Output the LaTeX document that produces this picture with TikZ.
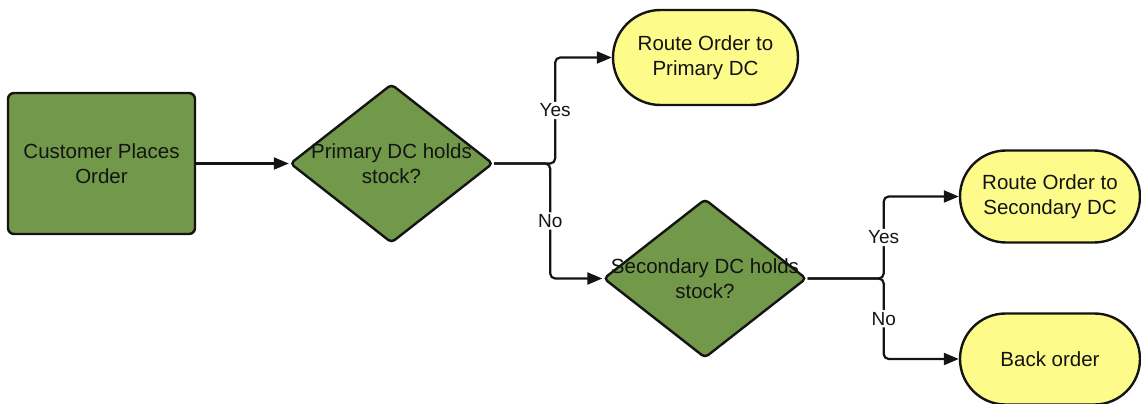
\documentclass[tikz,border=0pt]{standalone}
\usepackage{fontspec}
\setmainfont{Liberation Sans}
\usetikzlibrary{shapes.geometric,shapes.misc,arrows.meta}
\definecolor{leaf}{RGB}{114,152,74}
\definecolor{lemon}{RGB}{253,251,137}
\definecolor{ink}{RGB}{20,20,20}
\tikzset{
  every node/.style={font=\fontsize{20.5}{25}\selectfont, align=center, text=ink},
  startbox/.style={draw=ink, line width=2.4pt, fill=leaf, rounded corners=6pt,
    minimum width=187pt, minimum height=141pt, inner sep=0pt},
  decision/.style={draw=ink, line width=2.4pt, fill=leaf, diamond, rounded corners=4pt,
    minimum width=203pt, minimum height=159pt, inner sep=0pt},
  outcome/.style={draw=ink, line width=2.4pt, fill=lemon, rounded rectangle,
    minimum width=180pt, minimum height=93pt, inner sep=0pt},
  conn/.style={draw=ink, line width=2.2pt, rounded corners=5pt,
    -{Triangle[length=15pt,width=12pt]}},
  lbl/.style={fill=white, inner sep=2pt, font=\fontsize{19}{22}\selectfont},
}
\begin{document}
\begin{tikzpicture}[x=1pt,y=-1pt]
  \useasboundingbox (0,0) rectangle (1141,404);

  % shapes
  \node[startbox] (cust) at (101.5,163.5) {Customer Places\\Order};
  \node[decision] (d1) at (391.5,163.5) {};
  \node (d1t) at (d1) {Primary DC holds\\stock?};
  \node[decision] (d2) at (705,278.5) {};
  \node (d2t) at (d2) {Secondary DC holds\\stock?};
  \node[outcome, minimum width=185pt, minimum height=95pt] (r1) at (705.5,57.5) {Route Order to\\Primary DC};
  \node[outcome, minimum height=92pt] (r2) at (1050,196.5) {Route Order to\\Secondary DC};
  \node[outcome, minimum height=91pt] (bo) at (1050,359) {Back order};

  % connectors
  \draw[conn] (cust.east) -- (d1.west);
  \draw[conn] (d1.east) -- ++(61,0) |- node[pos=0.25, lbl] {Yes} (r1.west);
  \draw[conn] (d1.east) -- ++(56,0) |- node[pos=0.25, lbl] {No} (d2.west);
  \draw[conn] (d2.east) -- ++(76,0) |- node[pos=0.25, lbl] {Yes} (r2.west);
  \draw[conn] (d2.east) -- ++(76,0) |- node[pos=0.25, lbl] {No} (bo.west);
\end{tikzpicture}
\end{document}
